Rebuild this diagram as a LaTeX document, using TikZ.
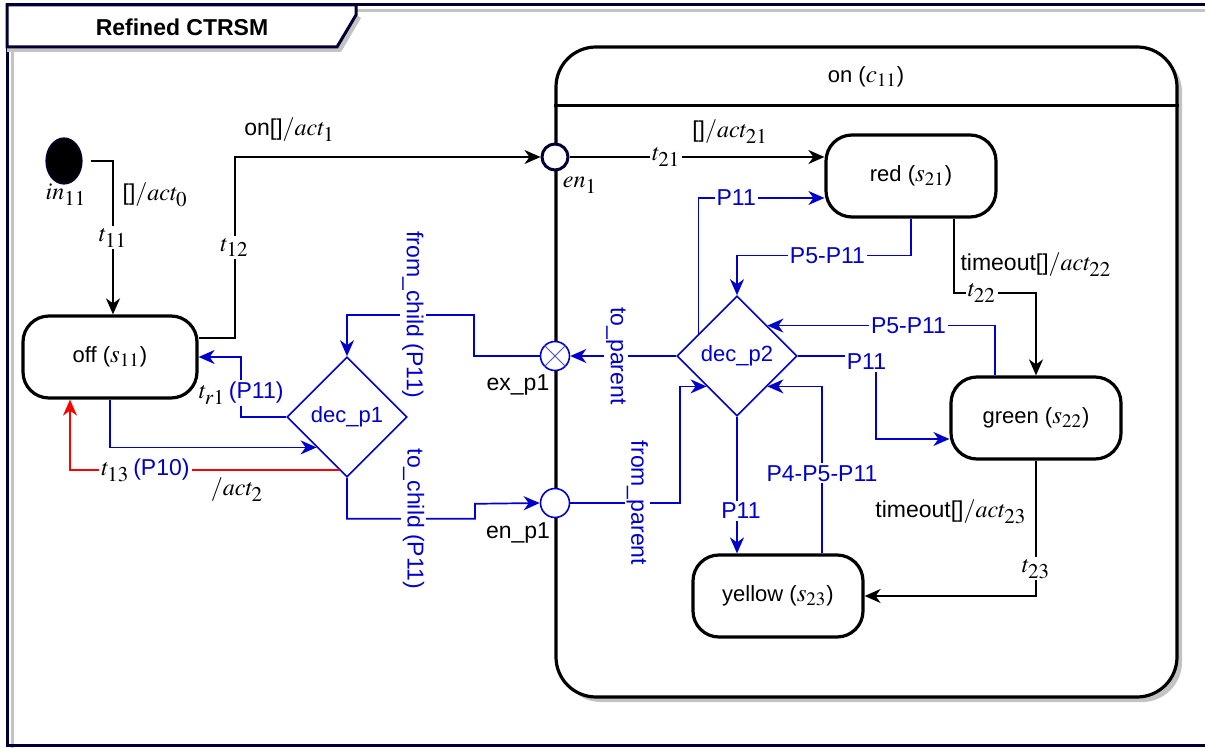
\documentclass[tikz,border=0pt]{standalone}
\usepackage{mathptmx}
\usepackage[no-math]{fontspec}
\setmainfont{Liberation Sans}
\DeclareMathSizes{11.5}{12}{10.5}{8}
\DeclareMathSizes{11}{12.5}{9.5}{7}
\usetikzlibrary{
  arrows.meta,
  calc,
  positioning,
  shapes.geometric
}
\definecolor{stmblue}{RGB}{0,0,204}
\definecolor{stmred}{RGB}{255,0,0}
\definecolor{framenavy}{RGB}{0,0,51}
\definecolor{shadowgray}{RGB}{195,195,195}

\tikzset{
  state/.style={draw, line width=1.6pt, rounded corners=13pt, fill=white,
    minimum width=85pt, minimum height=41pt, font=\fontsize{11}{13}\selectfont},
  container/.style={draw, line width=1.6pt, rounded corners=20pt, fill=white,
    minimum width=310.5pt, minimum height=325pt},
  decision/.style={diamond, draw=stmblue, line width=0.8pt, text=stmblue, fill=white,
    minimum width=60pt, minimum height=60pt, inner sep=0pt, font=\fontsize{11}{13}\selectfont},
  entrypt/.style={circle, draw=stmblue, line width=0.8pt, fill=white,
    minimum size=14.5pt, inner sep=0pt},
  trans/.style={draw, line width=1pt, -{Stealth[length=8pt,width=7pt,inset=2.5pt]}},
  btrans/.style={trans, draw=stmblue, line width=0.85pt},
  rtrans/.style={trans, draw=stmred, line width=0.85pt},
  txt/.style={font=\fontsize{11.5}{13}\selectfont},
  lbl/.style={txt, fill=white, inner sep=1pt},
  blbl/.style={lbl, text=stmblue}
}

\begin{document}
\begin{tikzpicture}[x=0.5pt, y=-0.5pt]
  \useasboundingbox (0,0) rectangle (1205,748);

  % Frame with its shadow
  \draw[shadowgray, line width=1.5pt] (1205,11) -- (12,11) -- (12,750);
  \draw[framenavy, line width=1.5pt] (1205,5) -- (7,5) -- (7,745) -- (1205,745);

  % Title tab
  \fill[shadowgray] (7,47) -- (337,47) -- (356,15) -- (361,18) -- (341,52) -- (7,52) -- cycle;
  \filldraw[fill=white, draw=framenavy, line width=1.5pt]
    (7,5) -- (356,5) -- (356,15) -- (337,47) -- (7,47) -- cycle;
  \node[font=\fontsize{11.5}{13}\selectfont\bfseries] (title) at (182,27) {Refined CTRSM};

  % Composite state on
  \node[container, draw=none, fill=shadowgray] (onshadow) at (871.5,377) {};
  \node[container] (on) at (866.5,372) {};
  \draw[line width=1.6pt] ([yshift=-30pt]on.north west) -- ([yshift=-30pt]on.north east);
  \node[font=\fontsize{11}{13}\selectfont] (onlbl) at (866,77) {on ($c_{11}$)};

  % Top level
  \node[ellipse, draw=framenavy, fill=black, line width=0.6pt, inner sep=0pt,
    minimum width=18pt, minimum height=23pt] (init) at (64,161) {};
  \node[txt] (initlbl) at (66,195) {$in_{11}$};
  \node[state, minimum width=87pt] (off) at (110,357) {off ($s_{11}$)};
  \node[decision] (dp1) at (347,417) {dec\_p1};

  % Pseudo states on the border
  \node[circle, draw=framenavy, line width=1.5pt, fill=white, minimum size=13pt,
    inner sep=0pt] (en1) at (555,157) {};
  \node[txt] (en1lbl) at (580,185) {$en_1$};
  \node[entrypt] (exp) at (555,356) {};
  \draw[stmblue!70, line width=0.5pt] (exp.north west) -- (exp.south east)
    (exp.north east) -- (exp.south west);
  \node[txt] (explbl) at (518,385) {ex\_p1};
  \node[entrypt] (enp) at (555,503) {};
  \node[txt] (enplbl) at (518,533) {en\_p1};

  % Sub states
  \node[state] (red) at (911,176) {red ($s_{21}$)};
  \node[state] (green) at (1036,418) {green ($s_{22}$)};
  \node[state] (yellow) at (778,596) {yellow ($s_{23}$)};
  \node[decision] (dp2) at (737,356) {dec\_p2};

  % Top level transitions
  \draw[trans] ([xshift=4pt]init.east) -| node[lbl, pos=0.75] (t11lbl) {$t_{11}$}
    node[txt, pos=0.61, right=1pt] (act0lbl) {[]$/act_0$}
    ([xshift=1.5pt]off.north);
  \draw[trans] ([yshift=9.5pt]off.east) -- ++(36,0) |- node[lbl, pos=0.25] (t12lbl) {$t_{12}$}
    node[txt, pos=0.59, above=4pt] (act1lbl) {on[]$/act_1$}
    (en1.west);
  \draw[btrans] (exp.west) -- ++(-66,0) -- ++(0,-41) -|
    node[blbl, pos=0.24, rotate=-90] (fromchild) {from\_child (P11)} (dp1.north);
  \draw[btrans] (dp1.west) -- ++(-45,0) |-
    node[lbl, pos=0.2] (tr1lbl) {$t_{r1}$\,\textcolor{stmblue}{(P11)}} (off.east);
  \draw[btrans] (off.south) |- (dp1.south west);
  \draw[rtrans] (dp1.-98) -| node[lbl, pos=0.36] (t13lbl) {$t_{13}$\,\textcolor{stmblue}{(P10)}}
    node[txt, pos=0.19, below=0pt] (act2lbl) {$/act_2$}
    ([xshift=-20pt]off.south);
  \draw[btrans] (dp1.south) -- ++(0,41) -|
    node[blbl, pos=0.26, rotate=-90] (tochild) {to\_child (P11)} ++(128,-15) -- (enp.west);

  % Transitions inside on
  \draw[trans] (en1.east) -- node[lbl, pos=0.38] (t21lbl) {$t_{21}$}
    node[txt, pos=0.63, above=3pt] (act21lbl) {[]$/act_{21}$}
    (en1 -| red.west);
  \draw[trans] ([xshift=21.5pt]red.south) -- ++(0,74) -|
    node[lbl, pos=0.17] (t22lbl) {$t_{22}$}
    node[txt, pos=0.5, above=4pt] (act22lbl) {timeout[]$/act_{22}$}
    (green.north);
  \draw[trans] (green.south) |- node[lbl, pos=0.4] (t23lbl) {$t_{23}$}
    node[txt, pos=0.19, left=1pt] (act23lbl) {timeout[]$/act_{23}$}
    (yellow.east);
  \draw[btrans] (dp2.west) -- node[blbl, pos=0.57, rotate=-90] (toparent) {to\_parent} (exp.east);
  \draw[btrans] (enp.east) -- node[blbl, pos=0.61, rotate=-90] (fromparent) {from\_parent}
    ++(110,0) |- (dp2.south west);
  \draw[btrans] (dp2.150) |- node[blbl, pos=0.65] (p11red) {P11} ([yshift=-11pt]red.west);
  \draw[btrans] (red.south) -- ++(0,37) -| node[blbl, pos=0.24] (p511red) {P5-P11} (dp2.north);
  \draw[btrans] ([xshift=-20.5pt]green.north) |- node[blbl, pos=0.69] (p511green) {P5-P11}
    (dp2.north east);
  \draw[btrans] (dp2.east) -- ++(78,0) node[blbl, pos=0.88, yshift=-3pt] (p11green) {P11}
    |- ([yshift=-10.5pt]green.west);
  \draw[btrans] (dp2.south) -- node[blbl, pos=0.69, xshift=2pt] (p11yellow) {P11}
    (dp2.south |- yellow.north);
  \draw[btrans] ([xshift=22pt]yellow.north) |- node[blbl, pos=0.24] (p4511) {P4-P5-P11}
    (dp2.south east);
\end{tikzpicture}
\end{document}
